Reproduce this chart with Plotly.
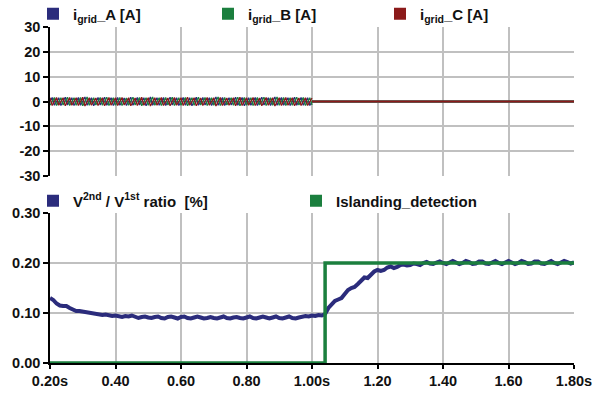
import numpy as np
import plotly.graph_objects as go
from plotly.subplots import make_subplots

# ---------------- data ----------------
# grid currents [A], sampled evenly from 0.20 s to 1.00 s; zero after 1.00 s
curr_on_start = 0.2
curr_on_stop = 1.0

i_grid_A = [
    0.1, 1.6, -1.5, 0.0, 1.5, -1.6, 0.1, 1.7, -1.4, 0.0, 1.5, -1.6, -0.1, 1.6, -1.5,
    0.1, 1.8, -1.5, 0.0, 1.5, -1.7, 0.1, 1.6, -1.4, 0.0, 1.7, -1.5, -0.1, 1.5, -1.6,
    0.0, 1.6, -1.5, 0.1, 1.4, -1.6, 0.0, 1.7, -1.5, -0.1, 1.6, -1.4, 0.1, 1.5, -1.7,
    0.0, 1.8, -1.5, 0.1, 1.5, -1.5, 0.0, 1.6, -1.6, -0.1, 1.7, -1.4, 0.0, 1.5, -1.6,
    0.1, 1.6, -1.5, 0.0, 1.5, -1.7, 0.1, 1.7, -1.5, 0.0, 1.6, -1.4, -0.1, 1.5, -1.6,
    0.1, 1.8, -1.5, 0.0, 1.6, -1.6, 0.1, 1.5, -1.4, 0.0, 1.7, -1.5, -0.1, 1.6, -1.7,
    0.0, 1.5, -1.5, 0.1, 1.6, -1.6, 0.0, 1.7, -1.4, 0.1, 1.5, -1.6, 0.0, 1.8, -1.5,
    -0.1, 1.6, -1.5, 0.0, 1.5, -1.6, 0.1, 1.7, -1.5, 0.0, 1.6, -1.5, 0.1, 1.5, -1.6,
    0.0,
]
i_grid_B = [
    -1.5, 0.0, 1.6, -1.6, 0.1, 1.5, -1.4, 0.0, 1.7, -1.6, -0.1, 1.5, -1.5, 0.1, 1.6,
    -1.7, 0.0, 1.8, -1.5, 0.1, 1.5, -1.4, 0.0, 1.6, -1.5, -0.1, 1.7, -1.6, 0.0, 1.5,
    -1.5, 0.1, 1.6, -1.6, 0.0, 1.4, -1.5, 0.1, 1.7, -1.4, 0.0, 1.6, -1.7, -0.1, 1.5,
    -1.5, 0.0, 1.8, -1.5, 0.1, 1.5, -1.6, 0.0, 1.6, -1.4, -0.1, 1.7, -1.6, 0.0, 1.5,
    -1.5, 0.1, 1.6, -1.7, 0.0, 1.5, -1.5, 0.1, 1.7, -1.4, 0.0, 1.6, -1.6, -0.1, 1.5,
    -1.5, 0.1, 1.8, -1.6, 0.0, 1.6, -1.4, 0.1, 1.5, -1.5, 0.0, 1.7, -1.7, -0.1, 1.6,
    -1.5, 0.0, 1.5, -1.6, 0.1, 1.6, -1.4, 0.0, 1.7, -1.6, 0.1, 1.5, -1.5, 0.0, 1.8,
    -1.5, -0.1, 1.6, -1.6, 0.0, 1.5, -1.5, 0.1, 1.7, -1.4, 0.0, 1.6, -1.6, 0.1, 1.5,
    -1.4,
]
i_grid_C = [
    1.5, -1.6, 0.0, 1.6, -1.5, 0.1, 1.5, -1.7, 0.0, 1.6, -1.5, -0.1, 1.5, -1.6, 0.1,
    1.7, -1.8, 0.0, 1.5, -1.5, 0.1, 1.4, -1.6, 0.0, 1.5, -1.7, -0.1, 1.6, -1.5, 0.0,
    1.5, -1.6, 0.1, 1.6, -1.4, 0.0, 1.5, -1.7, 0.1, 1.4, -1.6, 0.0, 1.7, -1.5, -0.1,
    1.5, -1.8, 0.0, 1.5, -1.5, 0.1, 1.6, -1.6, 0.0, 1.4, -1.7, -0.1, 1.6, -1.5, 0.0,
    1.5, -1.6, 0.1, 1.7, -1.5, 0.0, 1.5, -1.7, 0.1, 1.4, -1.6, 0.0, 1.6, -1.5, -0.1,
    1.5, -1.8, 0.1, 1.6, -1.6, 0.0, 1.4, -1.5, 0.1, 1.5, -1.7, 0.0, 1.7, -1.6, -0.1,
    1.5, -1.5, 0.0, 1.6, -1.6, 0.1, 1.4, -1.7, 0.0, 1.6, -1.5, 0.1, 1.5, -1.8, 0.0,
    1.5, -1.6, -0.1, 1.6, -1.5, 0.0, 1.5, -1.7, 0.1, 1.4, -1.6, 0.0, 1.5, -1.6, 0.1,
    1.4,
]
curr_off_t = [1.0, 1.8]
curr_off_A = [0.0, 0.0]
curr_off_B = [0.0, 0.0]
curr_off_C = [0.0, 0.0]

# V2nd / V1st ratio [%], every 0.01 s from 0.20 s to 1.80 s
ratio_t_start = 0.2
ratio_t_end = 1.8
ratio = [
    0.130, 0.126, 0.119, 0.115, 0.114, 0.114, 0.110, 0.106, 0.104, 0.104,
    0.103, 0.100, 0.099, 0.100, 0.098, 0.096, 0.096, 0.097, 0.095, 0.094,
    0.095, 0.093, 0.092, 0.094, 0.093, 0.095, 0.092, 0.090, 0.092, 0.093,
    0.091, 0.090, 0.092, 0.093, 0.090, 0.089, 0.092, 0.093, 0.091, 0.089,
    0.092, 0.093, 0.090, 0.089, 0.091, 0.093, 0.091, 0.089, 0.090, 0.092,
    0.090, 0.089, 0.091, 0.093, 0.090, 0.089, 0.091, 0.092, 0.090, 0.089,
    0.091, 0.093, 0.090, 0.089, 0.091, 0.093, 0.091, 0.089, 0.091, 0.093,
    0.090, 0.089, 0.091, 0.093, 0.090, 0.089, 0.091, 0.093, 0.094, 0.093,
    0.095, 0.094, 0.096, 0.095, 0.098, 0.110, 0.118, 0.124, 0.127, 0.130,
    0.138, 0.146, 0.150, 0.152, 0.158, 0.166, 0.171, 0.170, 0.176, 0.183,
    0.186, 0.184, 0.186, 0.191, 0.193, 0.190, 0.192, 0.196, 0.197, 0.195,
    0.196, 0.199, 0.198, 0.196, 0.200, 0.202, 0.199, 0.198, 0.201, 0.203,
    0.200, 0.198, 0.201, 0.204, 0.201, 0.198, 0.200, 0.204, 0.202, 0.198,
    0.199, 0.203, 0.203, 0.199, 0.198, 0.202, 0.204, 0.200, 0.198, 0.201,
    0.204, 0.201, 0.198, 0.200, 0.204, 0.202, 0.198, 0.199, 0.203, 0.203,
    0.199, 0.198, 0.202, 0.204, 0.200, 0.198, 0.201, 0.204, 0.202, 0.199,
    0.201,
]

# islanding detection flag (step)
island_t = [0.2, 1.04, 1.04, 1.8]
island_v = [0.0, 0.0, 0.2, 0.2]

# ticks
x_ticks = [0.2, 0.4, 0.6, 0.8, 1.0, 1.2, 1.4, 1.6, 1.8]
x_tick_text = ["0.20s", "0.40", "0.60", "0.80", "1.00s", "1.20", "1.40", "1.60", "1.80s"]
y_top_ticks = [-30, -20, -10, 0, 10, 20, 30]
y_top_text = ["-30", "-20", "-10", "0", "10", "20", "30"]
y_bot_ticks = [0.0, 0.1, 0.2, 0.3]
y_bot_text = ["0.00", "0.10", "0.20", "0.30"]

# legend labels
leg_names = ["i<sub>grid</sub>_A [A]", "i<sub>grid</sub>_B [A]", "i<sub>grid</sub>_C [A]",
             "V<sup>2nd</sup> / V<sup>1st</sup> ratio  [%]", "Islanding_detection"]

# ---------------- figure ----------------
NAVY = "#2B2C7C"
GREEN = "#1B7F3E"
RED = "#8B1A1A"
FONT = "Liberation Sans, Arial, sans-serif"
TFONT = dict(family=FONT, size=14.5, color="#111111", weight="bold")
LFONT = dict(family=FONT, size=15, color="#111111", weight="bold")

fig = make_subplots(rows=2, cols=1, shared_xaxes=False)

for vals, col in [(i_grid_A, NAVY), (i_grid_B, GREEN), (i_grid_C, RED)]:
    t_on = np.linspace(curr_on_start, curr_on_stop, len(vals))
    fig.add_trace(go.Scatter(x=t_on, y=vals, mode="lines", line=dict(color=col, width=1.3),
                             showlegend=False, hoverinfo="skip"), row=1, col=1)
for off, col in [(curr_off_A, NAVY), (curr_off_B, GREEN), (curr_off_C, RED)]:
    fig.add_trace(go.Scatter(x=curr_off_t, y=off, mode="lines", line=dict(color=col, width=2),
                             showlegend=False, hoverinfo="skip"), row=1, col=1)

ratio_t = np.linspace(ratio_t_start, ratio_t_end, len(ratio))
fig.add_trace(go.Scatter(x=ratio_t, y=ratio, mode="lines", line=dict(color=NAVY, width=4),
                         showlegend=False), row=2, col=1)
fig.add_trace(go.Scatter(x=island_t, y=island_v, mode="lines", line=dict(color=GREEN, width=3.5),
                         showlegend=False), row=2, col=1)

W, H = 593, 396
ml, mr, mt, mb = 50, 19, 27, 33
ph = H - mt - mb
pw = W - ml - mr

# one legend per entry, placed by the pixel where its text starts
leg_specs = [  # (name, colour, text-left px, centre-y px, row)
    (leg_names[0], NAVY, 73, 14, 1),
    (leg_names[1], GREEN, 248, 14, 1),
    (leg_names[2], RED, 420, 14, 1),
    (leg_names[3], NAVY, 73, 201, 2),
    (leg_names[4], GREEN, 336, 201, 2),
]
legend_layout = {}
for k, (name, col, tx, cy, row) in enumerate(leg_specs):
    lid = "legend" if k == 0 else f"legend{k + 1}"
    fig.add_trace(go.Scatter(x=[None], y=[None], mode="markers", name=name,
                             marker=dict(symbol="square", size=7, color=col),
                             legend=lid, showlegend=True), row=row, col=1)
    legend_layout[lid] = dict(
        orientation="h", xref="paper", yref="container",
        x=(tx - 40 - ml) / pw, xanchor="left",
        y=1 - cy / H, yanchor="middle",
        bgcolor="rgba(0,0,0,0)", font=LFONT, itemsizing="constant",
    )

grid_col = "#C0C0C0"
common_x = dict(range=[0.2, 1.8], tickvals=x_ticks, showgrid=True, gridcolor=grid_col,
                gridwidth=1.5, zeroline=False, automargin=False)
fig.update_xaxes(**common_x, showticklabels=False, showline=False, ticks="", row=1, col=1)
fig.update_xaxes(**common_x, ticktext=x_tick_text, tickfont=TFONT, showline=True,
                 linecolor="black", linewidth=1.5, ticks="outside", ticklen=4,
                 tickcolor="black", tickwidth=1.5, row=2, col=1)
common_y = dict(showgrid=True, gridcolor=grid_col, gridwidth=1.5, zeroline=False,
                showline=True, linecolor="black", linewidth=1.5, ticks="outside", ticklen=5,
                tickcolor="black", tickwidth=1.5, tickfont=TFONT, automargin=False)
fig.update_yaxes(range=[-30, 30], tickvals=y_top_ticks, ticktext=y_top_text, **common_y,
                 row=1, col=1)
fig.update_yaxes(range=[0, 0.3], tickvals=y_bot_ticks, ticktext=y_bot_text, **common_y,
                 row=2, col=1)

fig.update_layout(
    width=W, height=H,
    margin=dict(l=ml, r=mr, t=mt, b=mb, autoexpand=False),
    paper_bgcolor="white", plot_bgcolor="white",
    font=TFONT,
    xaxis=dict(domain=[0, 1]), xaxis2=dict(domain=[0, 1]),
    yaxis=dict(domain=[(H - mb - 176) / ph, 1.0]),
    yaxis2=dict(domain=[0.0, (H - mb - 213) / ph]),
    showlegend=True,
    **legend_layout,
)

fig.write_html("out.html", config={"displayModeBar": False},
               post_script="document.body.style.margin='0px';document.body.style.overflow='hidden';")
